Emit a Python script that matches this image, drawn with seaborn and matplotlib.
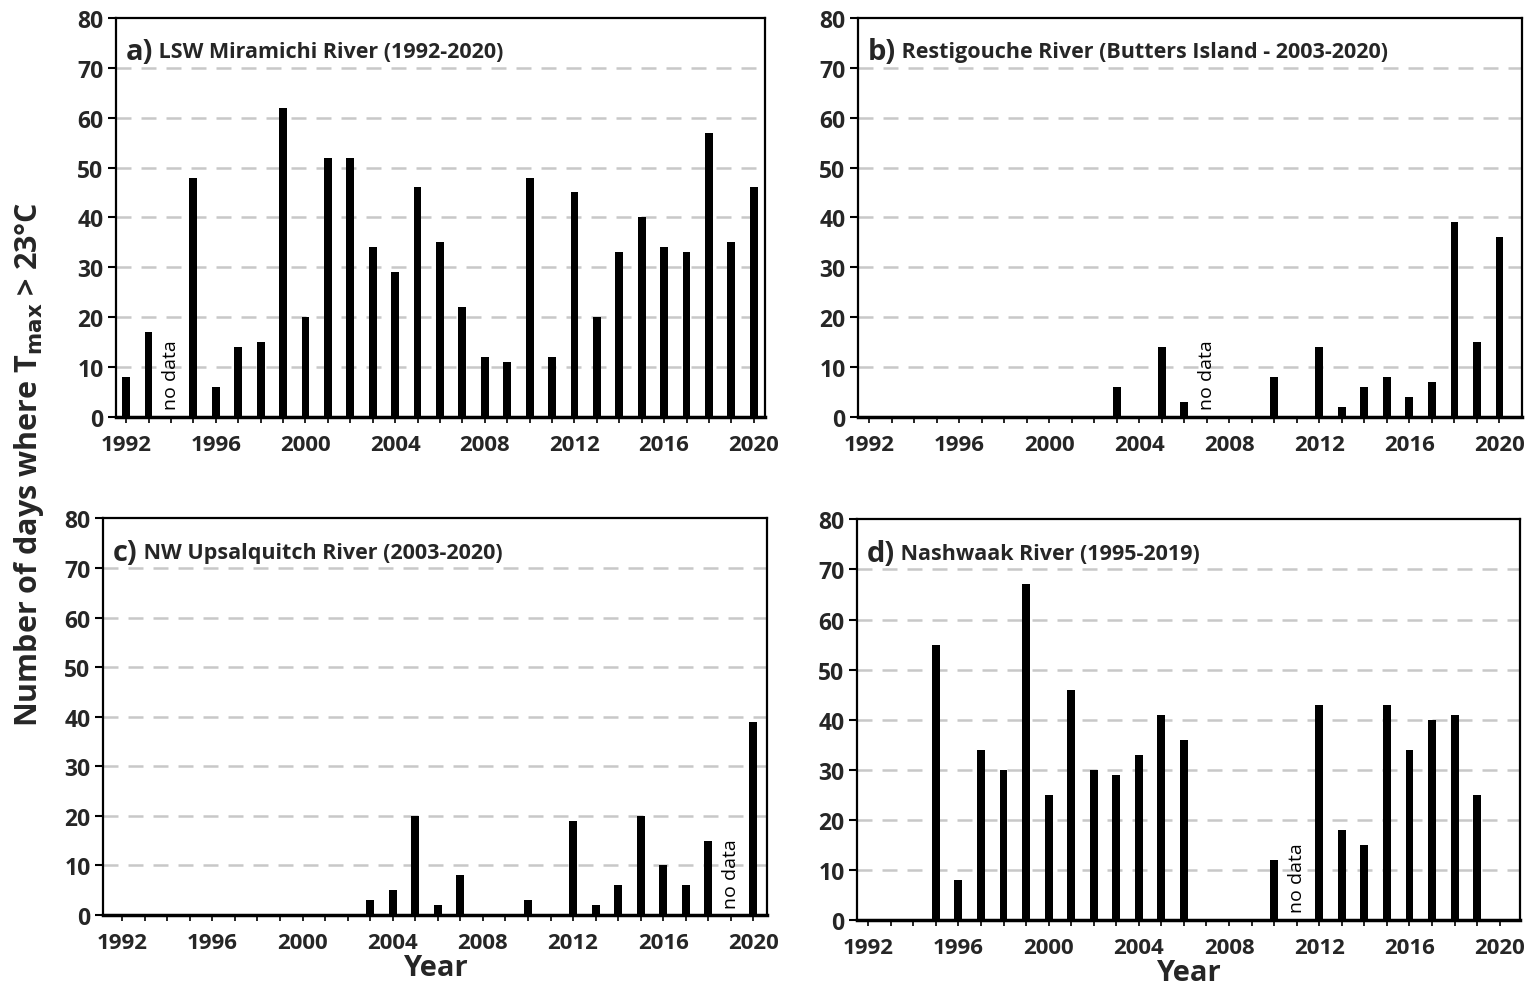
import matplotlib
matplotlib.use("Agg")
import matplotlib.pyplot as plt
import seaborn as sns
import pandas as pd
import numpy as np

sns.set_theme(style="white")
plt.rcParams['font.family'] = ['Open Sans', 'DejaVu Sans']
plt.rcParams['font.weight'] = 'bold'

all_years = list(range(1992, 2021))
tick_years = list(range(1992, 2021, 4))

# a) LSW Miramichi River
years_a = [1992, 1993, 1995, 1996, 1997, 1998, 1999, 2000, 2001, 2002, 2003, 2004, 2005,
           2006, 2007, 2008, 2009, 2010, 2011, 2012, 2013, 2014, 2015, 2016, 2017, 2018, 2019, 2020]
vals_a = [8, 17, 48, 6, 14, 15, 62, 20, 52, 52, 34, 29, 46,
          35, 22, 12, 11, 48, 12, 45, 20, 33, 40, 34, 33, 57, 35, 46]
nodata_a = 1994

# b) Restigouche River
years_b = [2003, 2004, 2005, 2006, 2008, 2009, 2010, 2011, 2012, 2013, 2014, 2015, 2016, 2017, 2018, 2019, 2020]
vals_b = [6, 0, 14, 3, 0, 0, 8, 0, 14, 2, 6, 8, 4, 7, 39, 15, 36]
nodata_b = 2007

# c) NW Upsalquitch River
years_c = [2003, 2004, 2005, 2006, 2007, 2008, 2009, 2010, 2011, 2012, 2013, 2014, 2015, 2016, 2017, 2018, 2020]
vals_c = [3, 5, 20, 2, 8, 0, 0, 3, 0, 19, 2, 6, 20, 10, 6, 15, 39]
nodata_c = 2019

# d) Nashwaak River
years_d = [1995, 1996, 1997, 1998, 1999, 2000, 2001, 2002, 2003, 2004, 2005, 2006, 2007, 2008, 2009,
           2010, 2012, 2013, 2014, 2015, 2016, 2017, 2018, 2019]
vals_d = [55, 8, 34, 30, 67, 25, 46, 30, 29, 33, 41, 36, 0, 0, 0,
          12, 43, 18, 15, 43, 34, 40, 41, 25]
nodata_d = 2011

panels = [
    ("a)", "LSW Miramichi River (1992-2020)", years_a, vals_a, nodata_a),
    ("b)", "Restigouche River (Butters Island - 2003-2020)", years_b, vals_b, nodata_b),
    ("c)", "NW Upsalquitch River (2003-2020)", years_c, vals_c, nodata_c),
    ("d)", "Nashwaak River (1995-2019)", years_d, vals_d, nodata_d),
]

rects = [
    [0.0757, 0.580, 0.4233, 0.401],
    [0.5597, 0.580, 0.4331, 0.401],
    [0.0672, 0.0794, 0.4331, 0.3986],
    [0.5590, 0.0744, 0.4325, 0.4026],
]
xlims = [(-0.45, 28.5), (-0.5, 29.0), (-0.85, 28.6), (-0.5, 28.9)]

fig = plt.figure(figsize=(15.33, 9.95), dpi=100)

for i, ((lab, title, yrs, vals, nd), rect, xl) in enumerate(zip(panels, rects, xlims)):
    ax = fig.add_axes(rect)
    df = pd.DataFrame({"year": yrs, "days": vals})
    sns.barplot(data=df, x="year", y="days", order=all_years, color="black",
                width=0.35, ax=ax, saturation=1, edgecolor="black", linewidth=0)
    ax.set_ylim(0, 80)
    ax.set_xlim(*xl)
    ax.set_yticks(range(0, 81, 10))
    ax.set_xticks(range(len(all_years)))
    ax.set_xticklabels([str(y) if y in tick_years else "" for y in all_years])
    for yv in range(10, 80, 10):
        ax.axhline(yv, color="#c8c8c8", lw=1.8, ls=(0, (6, 4)), zorder=0)
    for s in ax.spines.values():
        s.set_color("black")
        s.set_linewidth(1.6)
        s.set_visible(True)
    ax.spines['bottom'].set_linewidth(2.5)
    ax.tick_params(axis='y', direction='out', length=6, width=1.5, color='black',
                   labelsize=16.5, left=True, pad=3)
    ax.tick_params(axis='x', direction='out', length=4, width=1.2,
                   color='black', labelsize=16, bottom=True, pad=8)
    for t in ax.get_xticklabels() + ax.get_yticklabels():
        t.set_fontweight('bold')
    ax.set_xlabel("")
    ax.set_ylabel("")
    # no data label
    ndx = all_years.index(nd)
    ax.text(ndx, 1.5, "no data", rotation=90, ha="center", va="bottom",
            fontsize=14, fontweight="normal", color="black")
    # panel title
    t1 = ax.text(0.015, 0.915, lab, transform=ax.transAxes, fontsize=21,
                 fontweight="bold", va="center", ha="left")
    ax.annotate(" " + title, xy=(1, 0.5), xycoords=t1, va="center", ha="left",
                fontsize=15.5, fontweight="bold")
    if i >= 2:
        ax.set_xlabel("Year", fontsize=21, fontweight="bold", labelpad=0)

fig.text(0.019, 0.533, r"Number of days where T$_{\mathbf{max}}$ > 23°C", rotation=90,
         ha="center", va="center", fontsize=22, fontweight="bold")

fig.savefig("out.png", dpi=100)
